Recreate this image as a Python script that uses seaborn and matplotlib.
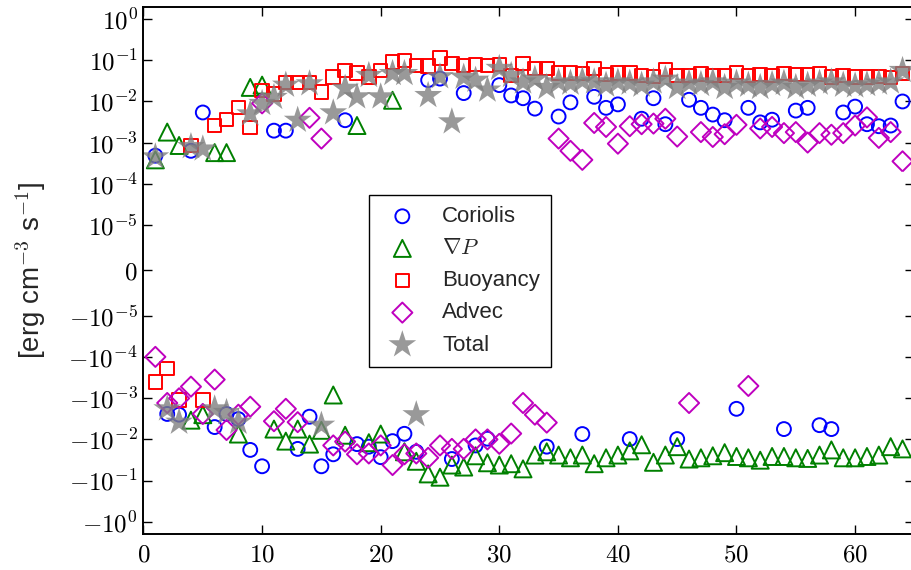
import numpy as np
import pandas as pd
import matplotlib
matplotlib.use("Agg")
import matplotlib.pyplot as plt
import seaborn as sns
from matplotlib.ticker import FixedLocator, FuncFormatter, NullLocator

# ---------------- data ----------------
steps = list(range(1, 65))

coriolis = [4.8e-4, -2.4e-3, -2.5e-3, 6.3e-4, 5.4e-3, -5e-3, -2.4e-3, -3.2e-3, -0.018, -0.045,
            1.95e-3, 1.95e-3, -0.017, -2.8e-3, -0.045, -0.023, 3.5e-3, -0.013, -0.015, -0.027,
            -0.011, -7.3e-3, -0.02, 0.033, 0.036, -0.03, 0.016, -0.014, -9.6e-3, 0.025,
            0.014, 0.012, 6.7e-3, -0.015, 4.3e-3, 9.5e-3, -7.4e-3, 0.013, 7e-3, 8.5e-3,
            -9.8e-3, 3.8e-3, 0.012, 2.8e-3, -9.8e-3, 0.011, 7e-3, 4.8e-3, 3.5e-3, -1.8e-3,
            7e-3, 3.1e-3, 3.6e-3, -5.6e-3, 6e-3, 7e-3, -4.5e-3, -5.6e-3, 5.4e-3, 7.5e-3,
            2.8e-3, 2.5e-3, 2.6e-3, 0.01]

gradp = [3.8e-4, 1.8e-3, 8.5e-4, -3.4e-3, -2.5e-3, 5.7e-4, 5.7e-4, -7.4e-3, 0.022, 0.025,
         -5.6e-3, -0.011, -5.6e-3, -0.013, -6e-3, -8.3e-4, -7.9e-3, 2.6e-3, -0.012, -7.4e-3,
         0.0107, -0.02, -0.034, -0.069, -0.083, -0.042, -0.047, -0.025, -0.037, -0.042,
         -0.039, -0.052, -0.024, -0.02, -0.024, -0.028, -0.024, -0.039, -0.028, -0.024,
         -0.019, -0.0135, -0.036, -0.024, -0.015, -0.03, -0.028, -0.025, -0.021, -0.026,
         -0.028, -0.032, -0.026, -0.026, -0.028, -0.029, -0.024, -0.018, -0.028, -0.028,
         -0.026, -0.024, -0.015, -0.017]

buoyancy = [-4e-4, -1.9e-4, -1.1e-3, 8.5e-4, -1.1e-3, 2.6e-3, 3.6e-3, 7.1e-3, 2.3e-3, 0.0186,
            0.015, 0.029, 0.029, 0.029, 0.017, 0.039, 0.057, 0.049, 0.039, 0.057,
            0.09, 0.1, 0.076, 0.072, 0.113, 0.085, 0.076, 0.08, 0.076, 0.08,
            0.043, 0.085, 0.064, 0.064, 0.05, 0.05, 0.048, 0.064, 0.045, 0.05,
            0.05, 0.043, 0.041, 0.06, 0.043, 0.043, 0.046, 0.043, 0.043, 0.051,
            0.043, 0.045, 0.043, 0.048, 0.045, 0.045, 0.047, 0.039, 0.043, 0.039,
            0.039, 0.041, 0.038, 0.048]

advec = [-9.8e-5, -1.3e-3, -1.0e-3, -5.2e-4, -2.4e-3, -3.5e-4, -5.9e-3, -2.5e-3, -1.6e-3, 9e-3,
         -3.6e-3, -1.8e-3, -3.8e-3, 4e-3, 1.25e-3, -0.014, -0.0113, -0.023, -0.022, -0.014,
         -0.042, -0.023, -0.022, -0.028, -0.014, -0.017, -0.017, -0.01, -0.01, -0.0128,
         -7.2e-3, -1.3e-3, -2.5e-3, -3.9e-3, 1.25e-3, 6.3e-4, 3.8e-4, 3e-3, 2.4e-3, 9.4e-4,
         2.5e-3, 2.8e-3, 2.9e-3, 3.8e-3, 1.4e-3, -1.3e-3, 1.8e-3, 1.37e-3, 1.6e-3, 2.7e-3,
         -5e-4, 2.2e-3, 2.4e-3, 1.7e-3, 1.8e-3, 1e-3, 1.7e-3, 1.55e-3, 1.7e-3, 2.6e-3,
         4.1e-3, 1.3e-3, 1.8e-3, 3.5e-4]

total = [4.5e-4, -1.8e-3, -3.8e-3, 8e-4, 7e-4, -1.8e-3, -2.2e-3, -3.8e-3, 5e-3, 9e-3,
         0.0126, 0.025, 3.5e-3, 0.027, -4.5e-3, 5.3e-3, 0.021, 0.013, 0.043, 0.013,
         0.048, 0.048, -2.5e-3, 0.014, 0.04, 3.2e-3, 0.039, 0.033, 0.019, 0.064,
         0.043, 0.03, 0.035, 0.022, 0.03, 0.028, 0.032, 0.03, 0.025, 0.03,
         0.028, 0.025, 0.03, 0.035, 0.022, 0.028, 0.026, 0.03, 0.022, 0.028,
         0.025, 0.022, 0.026, 0.028, 0.022, 0.025, 0.028, 0.03, 0.025, 0.024,
         0.026, 0.028, 0.03, 0.057]

labels = ["Coriolis", r"$\nabla P$", "Buoyancy", "Advec", "Total"]
x_ticks = [0, 10, 20, 30, 40, 50, 60]
y_ticks = [1, 1e-1, 1e-2, 1e-3, 1e-4, 1e-5, 0, -1e-5, -1e-4, -1e-3, -1e-2, -1e-1, -1]

df = pd.DataFrame({"step": steps, "Coriolis": coriolis, "gradP": gradp,
                   "Buoyancy": buoyancy, "Advec": advec, "Total": total})

# ---------------- style ----------------
sns.set_style("ticks")
plt.rcParams["font.family"] = ["Liberation Sans", "DejaVu Sans"]
plt.rcParams["mathtext.fontset"] = "cm"

fig = plt.figure(figsize=(9.12, 5.7), dpi=100)
W, H = 912.0, 570.0
left, right, top, bottom = 143.5, 914.4, 6.9, 534.0
ax = fig.add_axes([left / W, 1 - bottom / H, (right - left) / W, (bottom - top) / H])

open_kw = dict(facecolor="none", linewidth=1.4)
sns.scatterplot(data=df, x="step", y="Coriolis", ax=ax, marker="o", s=100,
                edgecolor="b", label=labels[0], **open_kw)
sns.scatterplot(data=df, x="step", y="gradP", ax=ax, marker="^", s=150,
                edgecolor="g", label=labels[1], **open_kw)
sns.scatterplot(data=df, x="step", y="Buoyancy", ax=ax, marker="s", s=95,
                edgecolor="r", label=labels[2], **open_kw)
sns.scatterplot(data=df, x="step", y="Advec", ax=ax, marker="D", s=105,
                edgecolor="m", label=labels[3], **open_kw)
sns.scatterplot(data=df, x="step", y="Total", ax=ax, marker="*", s=440,
                color="gray", alpha=0.8, edgecolor="none", linewidth=0, label=labels[4])

ax.set_yscale("symlog", linthresh=1e-5, linscale=1)
ax.set_ylim(-2, 2)
ax.set_xlim(0, 65)

def sym_fmt(v, pos):
    if v == 0:
        return r"$0$"
    e = int(round(np.log10(abs(v))))
    sign = "-" if v < 0 else ""
    return r"$%s10^{%d}$" % (sign, e)

ax.yaxis.set_major_locator(FixedLocator(y_ticks))
ax.yaxis.set_major_formatter(FuncFormatter(sym_fmt))
ax.yaxis.set_minor_locator(NullLocator())
ax.xaxis.set_major_locator(FixedLocator(x_ticks))
ax.xaxis.set_major_formatter(FuncFormatter(lambda v, p: r"$%d$" % v))
ax.xaxis.set_minor_locator(NullLocator())

ax.tick_params(direction="in", length=6.5, width=1, top=True, right=True,
               labelsize=18, colors="black")
ax.tick_params(axis="y", pad=4)
ax.tick_params(axis="x", pad=6)
for sp in ax.spines.values():
    sp.set_linewidth(1.4)
    sp.set_color("black")

ax.set_xlabel("")
ax.set_ylabel(r"[erg cm$^{\mathsf{-3}}$ s$^{\mathsf{-1}}$]", fontsize=20)
ax.yaxis.set_label_coords((48 - left) / (right - left), 0.5)

leg = ax.legend(loc="upper left", bbox_to_anchor=(369 / W, 1 - 195 / H),
                bbox_transform=fig.transFigure, fontsize=16, frameon=True,
                fancybox=False, edgecolor="black", framealpha=1,
                borderpad=0.5, handlelength=2, handletextpad=0.8,
                labelspacing=0.5, scatterpoints=1, borderaxespad=0)
leg.get_frame().set_linewidth(1.0)

fig.savefig("out.png", dpi=100)
